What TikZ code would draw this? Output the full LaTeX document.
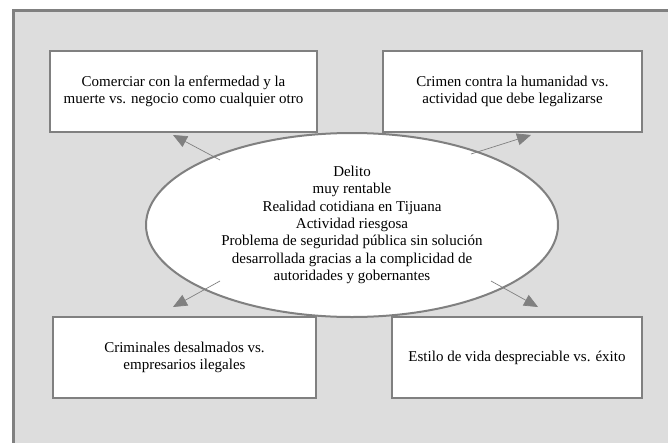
\documentclass[tikz,border=0pt]{standalone}
\usepackage{fontspec}
\setmainfont{Liberation Serif}
\usetikzlibrary{arrows.meta,shapes.geometric}
\definecolor{bgfill}{HTML}{DDDDDD}
\definecolor{edge}{HTML}{808080}
\begin{document}
\begin{tikzpicture}[x=1pt,y=-1pt,
  box/.style={draw=edge,line width=2pt,fill=white,minimum width=#1,minimum height=81pt,align=center,font=\fontsize{15}{16.5}\selectfont,inner sep=0pt},
  link/.style={draw=edge,line width=0.7pt,-{Triangle[length=14pt,width=12pt]},color=edge}]
\useasboundingbox (0,0) rectangle (668,442);
\node[draw=edge,fill=bgfill,line width=3pt,minimum width=680pt,minimum height=470pt,anchor=north west,inner sep=0pt] (frame) at (12,9) {};
\node[box=267pt] (tl) at (183.5,91.5) {Comerciar con la enfermedad y la\\muerte vs. negocio como cualquier otro};
\node[box=259pt] (tr) at (512.5,91.5) {Crimen contra la humanidad vs.\\actividad que debe legalizarse};
\node[box=263pt] (bl) at (184.5,357.5) {Criminales desalmados vs.\\empresarios ilegales};
\node[box=250pt] (br) at (517,357.5) {Estilo de vida despreciable vs. éxito};
\node[ellipse,draw=edge,line width=2pt,fill=white,minimum width=412pt,minimum height=184pt,inner sep=0pt,align=center,font=\fontsize{15}{17.3}\selectfont] (ell) at (352,225) {Delito\\muy rentable\\Realidad cotidiana en Tijuana\\Actividad riesgosa\\Problema de seguridad pública sin solución\\desarrollada gracias a la complicidad de\\autoridades y gobernantes};
\coordinate (s1) at (220,160); \coordinate (e1) at (173,135);
\coordinate (s2) at (471,154); \coordinate (e2) at (531,135);
\coordinate (s3) at (220,281); \coordinate (e3) at (173,307);
\coordinate (s4) at (491,281); \coordinate (e4) at (538,307);
\draw[link] (s1) -- (e1);
\draw[link] (s2) -- (e2);
\draw[link] (s3) -- (e3);
\draw[link] (s4) -- (e4);
\end{tikzpicture}
\end{document}
